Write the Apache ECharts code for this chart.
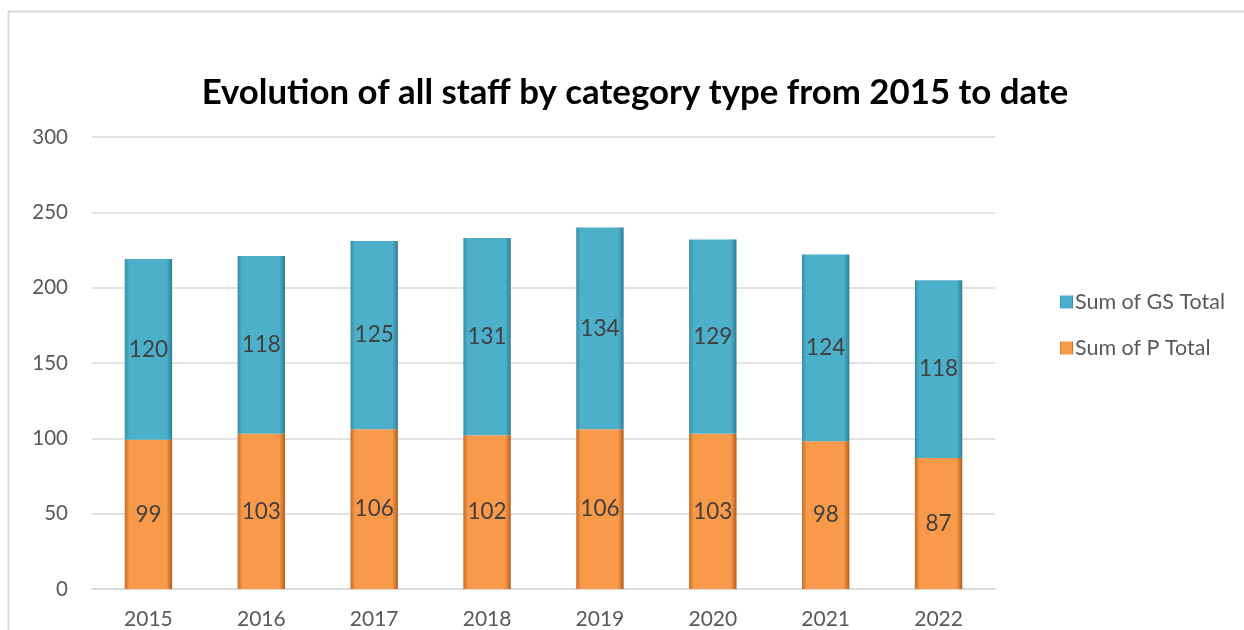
<!DOCTYPE html>
<html>
<head>
<meta charset="utf-8">
<script src="https://cdn.jsdelivr.net/npm/echarts@6/dist/echarts.min.js"></script>
<style>
html,body{margin:0;padding:0;background:#fff;}
#chart{width:1244px;height:630px;}
</style>
</head>
<body>
<div id="chart"></div>
<script>
const years = ['2015','2016','2017','2018','2019','2020','2021','2022'];
const pTotal = [99, 103, 106, 102, 106, 103, 98, 87];
const gsTotal = [120, 118, 125, 131, 134, 129, 124, 118];
const yTicks = [0, 50, 100, 150, 200, 250, 300];

const chart = echarts.init(document.getElementById('chart'));
const font = 'Lato, "Open Sans", sans-serif';

function grad(c1, c2, c3) {
  return new echarts.graphic.LinearGradient(0, 0, 1, 0, [
    {offset: 0, color: c1},
    {offset: 0.1, color: c2},
    {offset: 0.5, color: c2},
    {offset: 0.88, color: c2},
    {offset: 1, color: c3}
  ]);
}

chart.setOption({
  backgroundColor: '#ffffff',
  animation: false,
  title: {
    text: 'Evolution of all staff by category type from 2015 to date',
    left: 630, textAlign: 'center', top: 70,
    textStyle: {fontFamily: font, fontWeight: 'bold', fontSize: 34.8, color: '#000000'}
  },
  legend: {
    orient: 'vertical', left: 1055, top: 286, itemGap: 24,
    itemWidth: 13, itemHeight: 13, icon: 'rect',
    data: ['Sum of GS Total', 'Sum of P Total'],
    textStyle: {fontFamily: font, fontSize: 21.5, color: '#595959', padding: [0,0,0,-3]}
  },
  grid: {left: 92, right: 249, top: 137, bottom: 38, containLabel: false},
  xAxis: {
    type: 'category', data: years,
    axisLine: {show: true, lineStyle: {color: '#d9d9d9', width: 1.5}},
    axisTick: {show: false},
    axisLabel: {fontFamily: font, fontSize: 21, color: '#595959', margin: 20}
  },
  yAxis: {
    type: 'value', min: yTicks[0], max: yTicks[yTicks.length-1], interval: 50,
    axisLine: {show: false}, axisTick: {show: false},
    splitLine: {lineStyle: {color: '#d9d9d9', width: 1.5}},
    axisLabel: {fontFamily: font, fontSize: 20.5, color: '#595959', margin: 24}
  },
  series: [
    {
      name: 'Sum of P Total', type: 'bar', stack: 'total', data: pTotal,
      barWidth: '42%',
      itemStyle: {color: grad('#c46c26', '#f9994a', '#b25d1c')},
      label: {show: true, position: 'inside', fontFamily: font, fontSize: 22.5, color: '#404040'}
    },
    {
      name: 'Sum of GS Total', type: 'bar', stack: 'total', data: gsTotal,
      barWidth: '42%',
      itemStyle: {color: grad('#3a8ea6', '#4db0ca', '#2e7e94')},
      label: {show: true, position: 'inside', fontFamily: font, fontSize: 22.5, color: '#404040'}
    }
  ],
  graphic: [
    {type: 'polyline', shape: {points: [[8.5, 640], [8.5, 11.5], [1250, 11.5]]},
     style: {stroke: '#d9d9d9', lineWidth: 2, fill: null}, z: -1}
  ]
});
</script>
</body>
</html>
